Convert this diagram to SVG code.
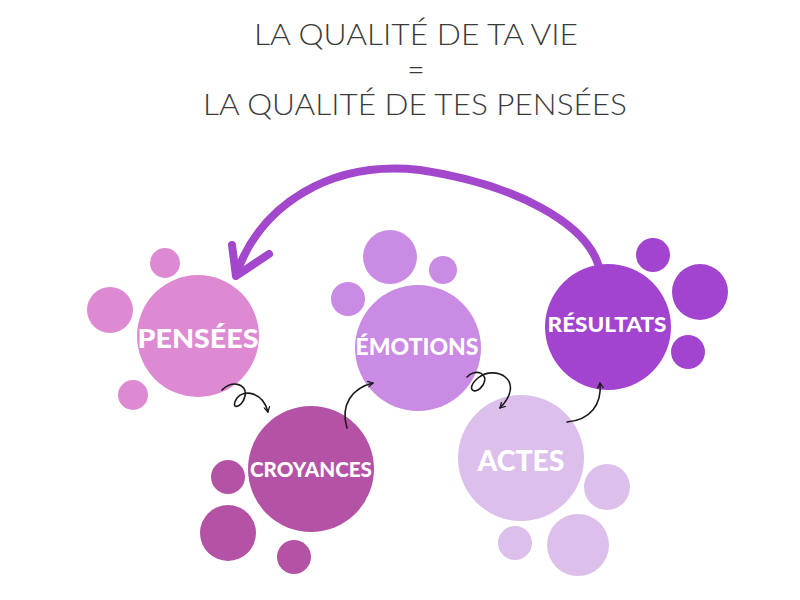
<svg xmlns="http://www.w3.org/2000/svg" width="800" height="600" viewBox="0 0 800 600">
<style>
.title{font-family:Lato,"Open Sans","Liberation Sans",sans-serif;font-weight:300;font-size:30px;fill:#3a3a3a;text-anchor:middle}
.lbl{font-family:Lato,"Open Sans","Liberation Sans",sans-serif;font-weight:900;fill:#ffffff;text-anchor:middle}
.curl{fill:none;stroke:#1a1a1a;stroke-width:1.6;stroke-linecap:round}
.big{fill:none;stroke:#a347cc;stroke-linecap:round;stroke-linejoin:round}
.c1{fill:#dd8ad3}.c2{fill:#b453a6}.c3{fill:#c98be3}.c4{fill:#dcbfeb}.c5{fill:#a244d0}
</style>
<defs>
<marker id="ah" viewBox="0 0 10 10" refX="8" refY="5" markerWidth="7" markerHeight="7" orient="auto" markerUnits="userSpaceOnUse">
<path d="M1,1 L8,5 L1,9" fill="none" stroke="#1a1a1a" stroke-width="1.8" stroke-linecap="round" stroke-linejoin="round"/>
</marker>
</defs>
<rect width="800" height="600" fill="#ffffff"/>
<g id="title">
<text class="title" x="416" y="45" textLength="324" lengthAdjust="spacingAndGlyphs">LA QUALITÉ DE TA VIE</text>
<text class="title" x="416" y="80">=</text>
<text class="title" x="415" y="115" textLength="424" lengthAdjust="spacingAndGlyphs">LA QUALITÉ DE TES PENSÉES</text>
</g>
<g id="pensees">
<circle class="c1" cx="165" cy="263" r="15"/>
<circle class="c1" cx="110" cy="310" r="23"/>
<circle class="c1" cx="133" cy="395" r="15"/>
<circle class="c1" cx="198" cy="336" r="61"/>
<text class="lbl" x="198" y="348" font-size="26" textLength="121" lengthAdjust="spacingAndGlyphs">PENSÉES</text>
</g>
<g id="croyances">
<circle class="c2" cx="228" cy="477" r="17"/>
<circle class="c2" cx="228" cy="533" r="28"/>
<circle class="c2" cx="294" cy="557" r="17"/>
<circle class="c2" cx="311" cy="469" r="63"/>
<text class="lbl" x="311" y="477" font-size="21" textLength="122" lengthAdjust="spacingAndGlyphs">CROYANCES</text>
</g>
<g id="emotions">
<circle class="c3" cx="390" cy="257" r="27"/>
<circle class="c3" cx="443" cy="270" r="14"/>
<circle class="c3" cx="348" cy="299" r="17"/>
<circle class="c3" cx="418" cy="348" r="63"/>
<text class="lbl" x="417" y="355" font-size="22" textLength="123" lengthAdjust="spacingAndGlyphs">ÉMOTIONS</text>
</g>
<g id="actes">
<circle class="c4" cx="607" cy="487" r="23"/>
<circle class="c4" cx="578" cy="545" r="31"/>
<circle class="c4" cx="515" cy="543" r="17"/>
<circle class="c4" cx="521" cy="458" r="63"/>
<text class="lbl" x="521" y="471" font-size="29" textLength="87" lengthAdjust="spacingAndGlyphs">ACTES</text>
</g>
<g id="resultats">
<circle class="c5" cx="653" cy="255" r="17"/>
<circle class="c5" cx="700" cy="292" r="28"/>
<circle class="c5" cx="688" cy="352" r="17"/>
<circle class="c5" cx="608" cy="327" r="63"/>
<text class="lbl" x="607" y="332" font-size="21" textLength="119" lengthAdjust="spacingAndGlyphs">RÉSULTATS</text>
</g>
<g id="connectors">
<path class="big" stroke-width="8" d="M598,264 C585,225 520,185 420,170 C330,160 260,205 236,275"/>
<path class="big" stroke-width="8" d="M232,245 L236,276 L269,254"/>
<path class="curl" marker-end="url(#ah)" d="M222,390 C230,380 248,383 245,396 C242,409 229,410 237,398 C244,389 263,392 268,412"/>
<path class="curl" marker-end="url(#ah)" d="M347,428 C340,405 352,388 373,383"/>
<path class="curl" marker-end="url(#ah)" d="M467,377 C475,368 490,373 483,385 C476,396 464,390 478,378 C495,364 527,380 500,408"/>
<path class="curl" marker-end="url(#ah)" d="M567,422 C590,420 602,405 600,383"/>
</g>
</svg>
